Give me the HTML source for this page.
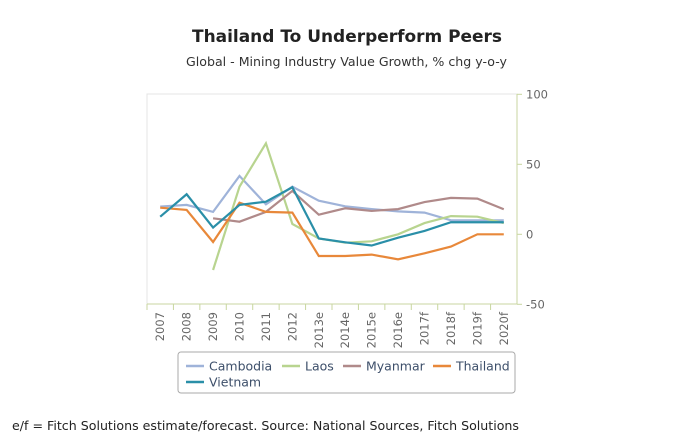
<!DOCTYPE html>
<html><head><meta charset="utf-8"><style>
body{margin:0;width:680px;height:441px;background:#fff;font-family:"DejaVu Sans","Liberation Sans",sans-serif;overflow:hidden}
</style></head><body>
<svg width="680" height="441" id="c" font-family="DejaVu Sans, Liberation Sans, sans-serif">
<text x="192" y="42" textLength="310" lengthAdjust="spacingAndGlyphs" font-size="17" font-weight="bold" fill="#222">Thailand To Underperform Peers</text>
<text x="186" y="66" textLength="321" lengthAdjust="spacingAndGlyphs" font-size="12" fill="#333">Global - Mining Industry Value Growth, % chg y-o-y</text>
<text x="12" y="430" textLength="507" lengthAdjust="spacingAndGlyphs" font-size="12" fill="#222">e/f = Fitch Solutions estimate/forecast. Source: National Sources, Fitch Solutions</text>
<rect x="147" y="94" width="370" height="210" fill="none" stroke="#e4e4e4"/>
<g id="axes"></g><g id="series"></g>
<rect x="178" y="352" width="337" height="41" rx="3" fill="#fff" stroke="#aaa"/>
<g id="legend"></g>
</svg>
<script>
const categories=["2007","2008","2009","2010","2011","2012","2013e","2014e","2015e","2016e","2017f","2018f","2019f","2020f"];
const cambodia=[19.8,21,16,41.7,21.4,34,24,20,18,16.4,15.5,10,10,10];
const laos=[null,null,-25.5,34,65,7.4,-3,-6,-5,0,8,13,12.6,8];
const myanmar=[null,null,11.4,9,16,31,14,18.6,16.7,18,23,26,25.5,17.9];
const thailand=[19,17.4,-5.5,22.6,16,15.5,-15.5,-15.5,-14.5,-17.9,-13.6,-8.8,0,0];
const vietnam=[12.6,28.6,4.8,21,23.3,33.6,-3,-5.7,-8,-2.4,2.4,8.6,8.6,8.6];
const yTicks=[100,50,0,-50];
const NS="http://www.w3.org/2000/svg";
const x0=147,bw=370/categories.length;
const xs=i=>x0+bw*(i+0.5);
const ys=v=>234.3-(v*1.4);
function mk(t,a,p){const e=document.createElementNS(NS,t);for(const k in a)e.setAttribute(k,a[k]);p.appendChild(e);return e;}
const ax=document.getElementById('axes');
mk('line',{x1:517,y1:94,x2:517,y2:304,stroke:'#c8d6a0'},ax);
mk('line',{x1:147,y1:304,x2:517,y2:304,stroke:'#c8d6a0'},ax);
yTicks.forEach(v=>{
 mk('line',{x1:517,y1:ys(v),x2:522,y2:ys(v),stroke:'#c8d6a0'},ax);
 const t=mk('text',{x:526,y:ys(v)+4,'font-size':11.5,fill:'#666'},ax);t.textContent=v;
 
 
});
categories.forEach((c,i)=>{
 mk('line',{x1:x0+bw*i,y1:304,x2:x0+bw*i,y2:310,stroke:'#c8d6a0'},ax);
 const t=mk('text',{transform:`translate(${xs(i)+4},${312}) rotate(-90)`,'text-anchor':'end','font-size':11.5,fill:'#666'},ax);
 t.textContent=c;
 
 
});
const series=[["Cambodia",cambodia,"#9fb3d9"],["Laos",laos,"#b8d48f"],["Myanmar",myanmar,"#b08a8a"],["Thailand",thailand,"#e8883a"],["Vietnam",vietnam,"#2a8fa8"]];
const sg=document.getElementById('series');
series.forEach(([n,d,col])=>{
 let p="";d.forEach((v,i)=>{if(v===null)return;p+=(p?"L":"M")+xs(i)+","+ys(v);});
 const e=mk('path',{d:p,fill:'none',stroke:col,'stroke-width':2.2},sg);
 
 
});
const lg=document.getElementById('legend');
const pos=[[186,366],[282,366],[343,366],[433,366],[186,382]];
series.forEach(([n,d,col],i)=>{
 const g=mk('g',{},lg);
 
 
 mk('line',{x1:pos[i][0],y1:pos[i][1],x2:pos[i][0]+18,y2:pos[i][1],stroke:col,'stroke-width':2.5},g);
 const t=mk('text',{x:pos[i][0]+23,y:pos[i][1]+4.5,'font-size':12.5,fill:'#3d4f6a'},g);t.textContent=n;
});
</script>
</body></html>
